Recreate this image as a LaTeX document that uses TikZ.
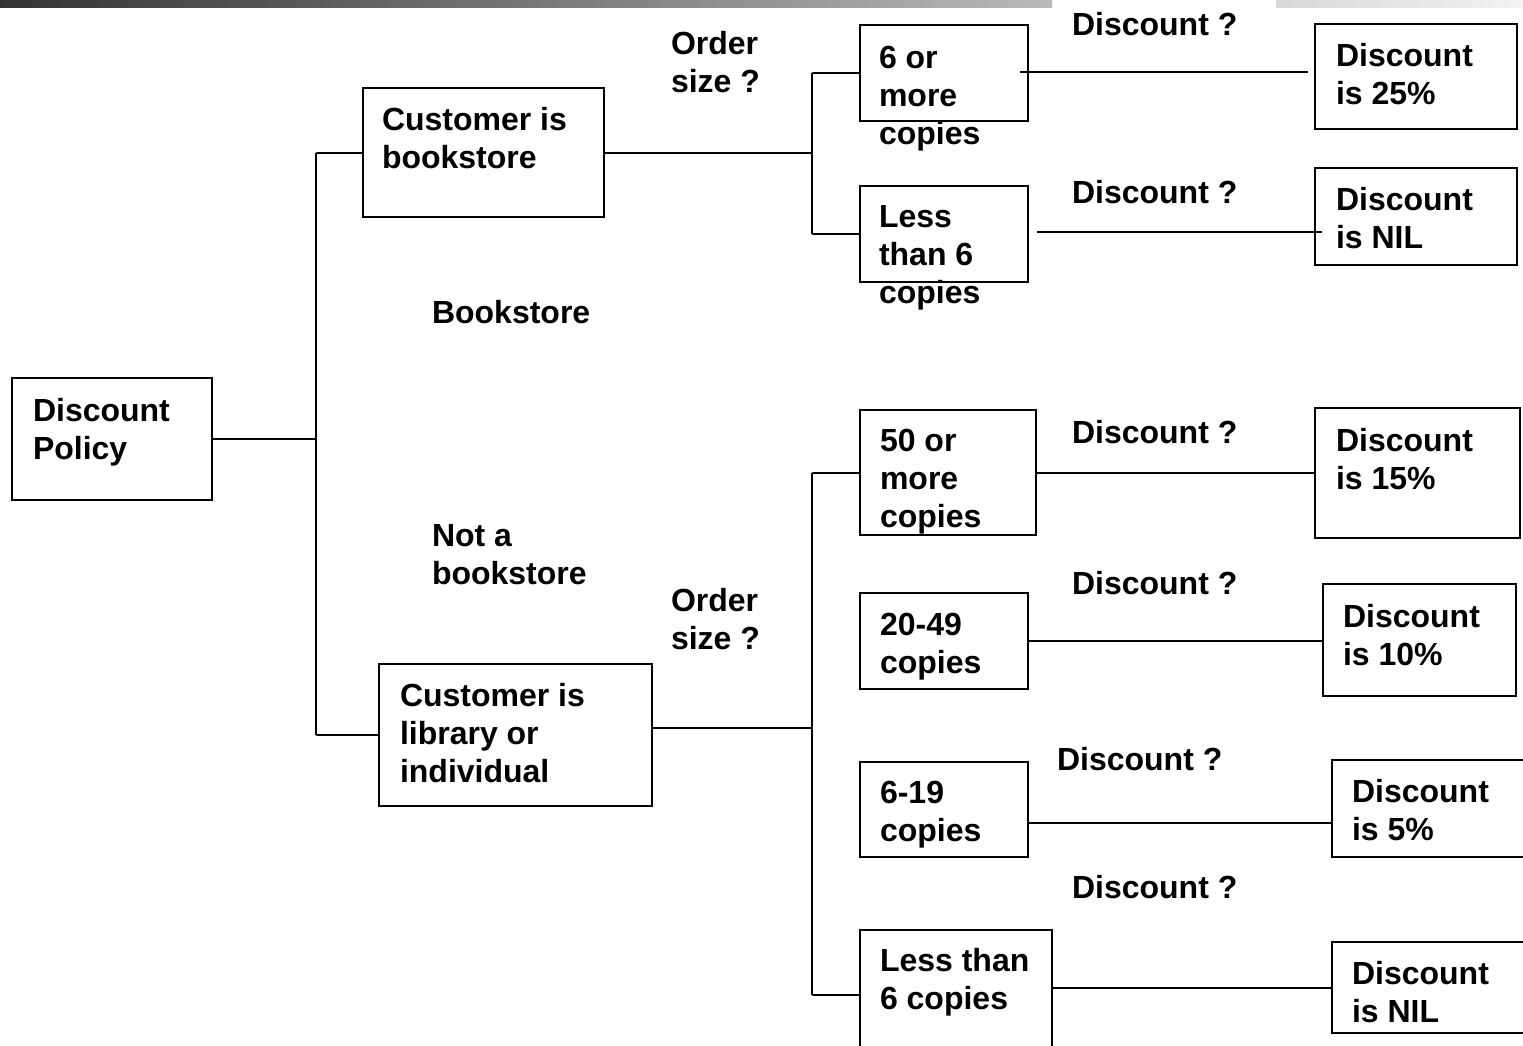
\documentclass[tikz,border=0pt]{standalone}
\usepackage{fontspec}
\setmainfont{Liberation Sans}
\usetikzlibrary{calc}
\definecolor{barA}{HTML}{333333}
\definecolor{barB}{HTML}{BABABA}
\definecolor{barC}{HTML}{D8D8D8}
\definecolor{barD}{HTML}{F3F3F3}
% multi-line label whose baseline is the first line
\newcommand{\ml}[1]{\begin{tabular}[t]{@{}l@{}}#1\end{tabular}}
\begin{document}
\begin{tikzpicture}[x=1pt,y=-1pt,
  box/.style={draw, line width=2pt, inner sep=0pt, outer sep=0pt, anchor=north west},
  txt/.style={anchor=base west, inner sep=0pt, outer sep=0pt,
              font=\bfseries\fontsize{32}{38}\selectfont},
  wire/.style={line width=2pt}]
\useasboundingbox (0,0) rectangle (1523,1045);
\clip (0,0) rectangle (1523,1045);

% title bar
\shade[left color=barA, right color=barB] (0,0) rectangle (1052,7.5);
\shade[left color=barC, right color=barD] (1276,0) rectangle (1523,7.5);

% decision boxes
\node[box, minimum width=200pt, minimum height=122pt] (dp)  at (12,378)  {};
\node[box, minimum width=241pt, minimum height=129pt] (cb)  at (363,88)  {};
\node[box, minimum width=273pt, minimum height=142pt] (cl)  at (379,664) {};
\node[box, minimum width=168pt, minimum height=96pt]  (b6)  at (860,25)  {};
\node[box, minimum width=168pt, minimum height=96pt]  (bl6) at (860,186) {};
\node[box, minimum width=176pt, minimum height=125pt] (b50) at (860,410) {};
\node[box, minimum width=168pt, minimum height=96pt]  (b20) at (860,593) {};
\node[box, minimum width=168pt, minimum height=95pt]  (b619) at (860,762) {};
\node[box, minimum width=192pt, minimum height=130pt] (bls) at (860,930) {};
% outcome boxes
\node[box, minimum width=202pt, minimum height=105pt] (d25) at (1315,24)  {};
\node[box, minimum width=202pt, minimum height=97pt]  (dn1) at (1315,168) {};
\node[box, minimum width=205pt, minimum height=130pt] (d15) at (1315,408) {};
\node[box, minimum width=193pt, minimum height=112pt] (d10) at (1323,584) {};
\node[box, minimum width=200pt, minimum height=97pt]  (d5)  at (1332,760) {};
\node[box, minimum width=200pt, minimum height=91pt]  (dn2) at (1332,942) {};

% trunks
\coordinate (ta) at (316,0);
\coordinate (tb) at (812,0);
\coordinate (clr) at ($(cl.north east)!0.45!(cl.south east)$);
\coordinate (r619) at ($(b619.north east)!0.64!(b619.south east)$);

% connectors
\draw[wire] (dp.east) -- (dp.east -| ta);
\draw[wire] (cb.west -| ta) -- (cl.west -| ta);
\draw[wire] (cb.west -| ta) -- (cb.west);
\draw[wire] (cl.west -| ta) -- (cl.west);

\draw[wire] (cb.east) -- (cb.east -| tb);
\draw[wire] (b6.west -| tb) -- (bl6.west -| tb);
\draw[wire] (b6.west -| tb) -- (b6.west);
\draw[wire] (bl6.west -| tb) -- (bl6.west);

\draw[wire] (clr) -- (clr -| tb);
\draw[wire] (b50.west -| tb) -- (bls.west -| tb);
\draw[wire] (b50.west -| tb) -- (b50.west);
\draw[wire] (bls.west -| tb) -- (bls.west);

\coordinate (s6)  at ($(b6.east)+(-8,-1)$);
\coordinate (e25) at ($(d25.west)+(-7,0)$);
\draw[wire] (s6) -- (s6 -| e25);
\coordinate (sl6) at ($(bl6.east)+(9,-2)$);
\coordinate (en1) at ($(dn1.west)+(7,0)$);
\draw[wire] (sl6) -- (sl6 -| en1);
\draw[wire] (b50.east) -- (b50.east -| d15.west);
\draw[wire] (b20.east) -- (b20.east -| d10.west);
\draw[wire] (r619) -- (r619 -| d5.west);
\draw[wire] (dn2.west -| bls.east) -- (dn2.west);

% texts
\node[txt] (t1)  at (671,54.5)  {\ml{Order\\size ?}};
\node[txt] (t2)  at (1072,35.5) {Discount ?};
\node[txt] (t3)  at (879,68.5)  {\ml{6 or\\more\\copies}};
\node[txt] (t4)  at (382,130.5) {\ml{Customer is\\bookstore}};
\node[txt] (t5)  at (1336,66.5) {\ml{Discount\\is 25\%}};
\node[txt] (t6)  at (1072,203.5) {Discount ?};
\node[txt] (t7)  at (879,227.5) {\ml{Less\\than 6\\copies}};
\node[txt] (t8)  at (1336,210.5) {\ml{Discount\\is NIL}};
\node[txt] (t9)  at (432,323.5) {Bookstore};
\node[txt] (t10) at (33,421.5)  {\ml{Discount\\Policy}};
\node[txt] (t11) at (880,451.5) {\ml{50 or\\more\\copies}};
\node[txt] (t12) at (1072,443.5) {Discount ?};
\node[txt] (t13) at (1336,451.5) {\ml{Discount\\is 15\%}};
\node[txt] (t14) at (432,546.5) {\ml{Not a\\bookstore}};
\node[txt] (t15) at (1072,594.5) {Discount ?};
\node[txt] (t16) at (671,611.5) {\ml{Order\\size ?}};
\node[txt] (t17) at (1343,627.5) {\ml{Discount\\is 10\%}};
\node[txt] (t18) at (880,635.5) {\ml{20-49\\copies}};
\node[txt] (t19) at (400,706.5) {\ml{Customer is\\library or\\individual}};
\node[txt] (t20) at (1057,770.5) {Discount ?};
\node[txt] (t21) at (1352,802.5) {\ml{Discount\\is 5\%}};
\node[txt] (t22) at (880,803.5) {\ml{6-19\\copies}};
\node[txt] (t23) at (1072,898.5) {Discount ?};
\node[txt] (t24) at (880,971.5) {\ml{Less than\\6 copies}};
\node[txt] (t25) at (1352,984.5) {\ml{Discount\\is NIL}};
\end{tikzpicture}
\end{document}
